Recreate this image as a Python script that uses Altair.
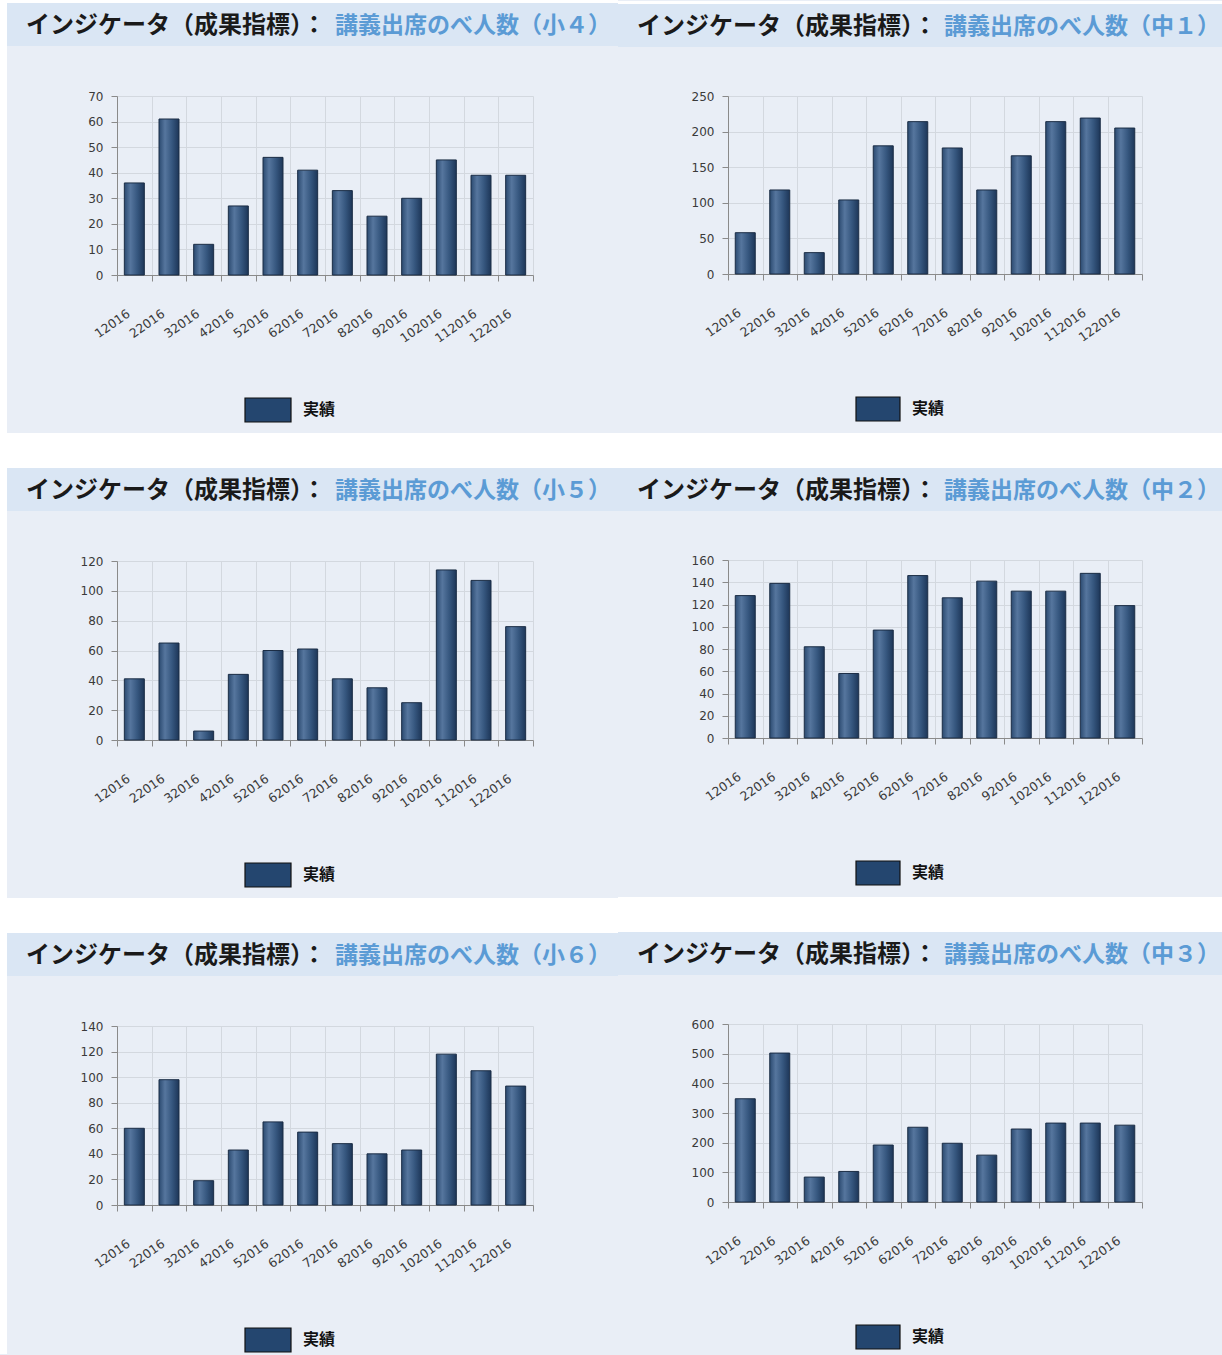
import altair as alt
import pandas as pd

# ---------------- data ----------------
months = ["12016", "22016", "32016", "42016", "52016", "62016",
          "72016", "82016", "92016", "102016", "112016", "122016"]

title_prefix = "インジケータ（成果指標）："
legend_label = "実績"

sub_s4 = "講義出席のべ人数（小４）"
sub_c1 = "講義出席のべ人数（中１）"
sub_s5 = "講義出席のべ人数（小５）"
sub_c2 = "講義出席のべ人数（中２）"
sub_s6 = "講義出席のべ人数（小６）"
sub_c3 = "講義出席のべ人数（中３）"

vals_s4 = [36, 61, 12, 27, 46, 41, 33, 23, 30, 45, 39, 39]
vals_c1 = [58, 118, 30, 104, 180, 214, 177, 118, 166, 214, 219, 205]
vals_s5 = [41, 65, 6, 44, 60, 61, 41, 35, 25, 114, 107, 76]
vals_c2 = [128, 139, 82, 58, 97, 146, 126, 141, 132, 132, 148, 119]
vals_s6 = [60, 98, 19, 43, 65, 57, 48, 40, 43, 118, 105, 93]
vals_c3 = [348, 502, 84, 103, 192, 252, 198, 158, 246, 266, 266, 259]

ymax_s4, step_s4 = 70, 10
ymax_c1, step_c1 = 250, 50
ymax_s5, step_s5 = 120, 20
ymax_c2, step_c2 = 160, 20
ymax_s6, step_s6 = 140, 20
ymax_c3, step_c3 = 600, 100

# ---------------- style ----------------
BG = "#e9eef6"
TITLE_BAR = "#dae6f4"
WHITE = "#ffffff"
BLUE_TXT = "#5b9bd5"
GRID = "#d3d8df"
AXIS = "#8a8a8a"

bar_fill = alt.Gradient(
    gradient="linear", x1=0, x2=1, y1=0, y2=0,
    stops=[
        alt.GradientStop(color="#2b4a70", offset=0),
        alt.GradientStop(color="#56769e", offset=0.3),
        alt.GradientStop(color="#36577f", offset=0.65),
        alt.GradientStop(color="#1d3658", offset=1),
    ],
)

COLS = {
    0: dict(off_x=117, pw=416, ph=179, off_y=96, cell_w=618, heights=[465, 465, 424],
            blue_bottom=433, blue_left=7, tx_black=26, tx_blue=335,
            legend=(128, 174, 302, 326)),
    1: dict(off_x=110, pw=414, ph=178, off_y=95, cell_w=604, heights=[464, 464, 426],
            blue_bottom=432, blue_left=0, tx_black=19, tx_blue=326,
            legend=(128, 172, 301, 325)),
}

one = pd.DataFrame({"k": [0]})


def rect(x1, x2, y1, y2, color):
    return alt.Chart(one).mark_rect(color=color).encode(
        x=alt.value(x1), x2=alt.value(x2), y=alt.value(y1), y2=alt.value(y2)
    )


def panel(sub, vals, ymax, step, col, row):
    c = COLS[col]
    ox, oy = c["off_x"], c["off_y"]
    cw = c["cell_w"]
    ch = c["heights"][row]
    layers = []
    # white strip at the top of the cell
    layers.append(rect(-ox, cw - ox, -oy, -oy + 3, WHITE))
    # white strip at the left edge (left column)
    if c["blue_left"] > 0:
        layers.append(rect(-ox, -ox + c["blue_left"], -oy, ch - oy, WHITE))
    # title bar
    layers.append(rect(-ox + c["blue_left"], cw - ox, -oy + 3, -oy + 46, TITLE_BAR))
    # gap below panel
    if row < 2:
        layers.append(rect(-ox, cw - ox, c["blue_bottom"] - oy, ch - oy, WHITE))
    else:
        layers.append(rect(-ox + c["blue_left"], cw - ox, ch - oy - 2, ch - oy, BG))

    # title texts
    layers.append(
        alt.Chart(pd.DataFrame({"t": [title_prefix]})).mark_text(
            align="left", baseline="middle", font="Noto Sans CJK JP",
            fontSize=24, fontWeight="bold", color="#1a1a1a"
        ).encode(x=alt.value(c["tx_black"] - ox), y=alt.value(26 - oy), text="t:N")
    )
    layers.append(
        alt.Chart(pd.DataFrame({"t": [sub]})).mark_text(
            align="left", baseline="middle", font="Noto Sans CJK JP",
            fontSize=23, fontWeight="bold", color=BLUE_TXT
        ).encode(x=alt.value(c["tx_blue"] - ox), y=alt.value(26 - oy), text="t:N")
    )

    # bars
    df = pd.DataFrame({"month": months, "v": vals})
    bars = alt.Chart(df).mark_bar(
        width=20, color=bar_fill, stroke="#1b2d45", strokeWidth=1
    ).encode(
        x=alt.X("month:N", sort=months,
                scale=alt.Scale(paddingInner=0, paddingOuter=0),
                axis=alt.Axis(title=None, tickBand="extent", grid=True, gridColor=GRID,
                              domainColor=AXIS, tickColor=AXIS, tickSize=6,
                              labelAngle=-35, labelAlign="right", labelBaseline="middle",
                              labelPadding=31, labelOffset=-6,
                              labelFont="DejaVu Sans", labelFontSize=12.5,
                              labelColor="#3a3a3a")),
        y=alt.Y("v:Q",
                scale=alt.Scale(domain=[0, ymax], nice=False),
                axis=alt.Axis(title=None, values=list(range(0, ymax + 1, step)),
                              grid=True, gridColor=GRID, domainColor=AXIS,
                              tickColor=AXIS, tickSize=6, labelPadding=8,
                              labelFont="DejaVu Sans", labelFontSize=12,
                              labelColor="#3a3a3a")),
    )
    layers.append(bars)

    # legend
    lx1, lx2, ly1, ly2 = c["legend"]
    layers.append(
        alt.Chart(one).mark_rect(color="#24466f", stroke="#111111", strokeWidth=1.2).encode(
            x=alt.value(lx1), x2=alt.value(lx2), y=alt.value(ly1), y2=alt.value(ly2)
        )
    )
    layers.append(
        alt.Chart(pd.DataFrame({"t": [legend_label]})).mark_text(
            align="left", baseline="middle", font="Noto Sans CJK JP",
            fontSize=16, fontWeight="bold", color="#111111"
        ).encode(x=alt.value(lx2 + 12), y=alt.value((ly1 + ly2) / 2), text="t:N")
    )

    return alt.layer(*layers).properties(width=c["pw"], height=c["ph"])


left = alt.vconcat(
    panel(sub_s4, vals_s4, ymax_s4, step_s4, 0, 0),
    panel(sub_s5, vals_s5, ymax_s5, step_s5, 0, 1),
    panel(sub_s6, vals_s6, ymax_s6, step_s6, 0, 2),
    spacing=0,
)
right = alt.vconcat(
    panel(sub_c1, vals_c1, ymax_c1, step_c1, 1, 0),
    panel(sub_c2, vals_c2, ymax_c2, step_c2, 1, 1),
    panel(sub_c3, vals_c3, ymax_c3, step_c3, 1, 2),
    spacing=0,
)

chart = alt.hconcat(left, right, spacing=0).properties(
    background=BG, padding=0
).configure_view(strokeWidth=0)

chart.save("out.html", embed_options={"renderer": "svg", "actions": False})
